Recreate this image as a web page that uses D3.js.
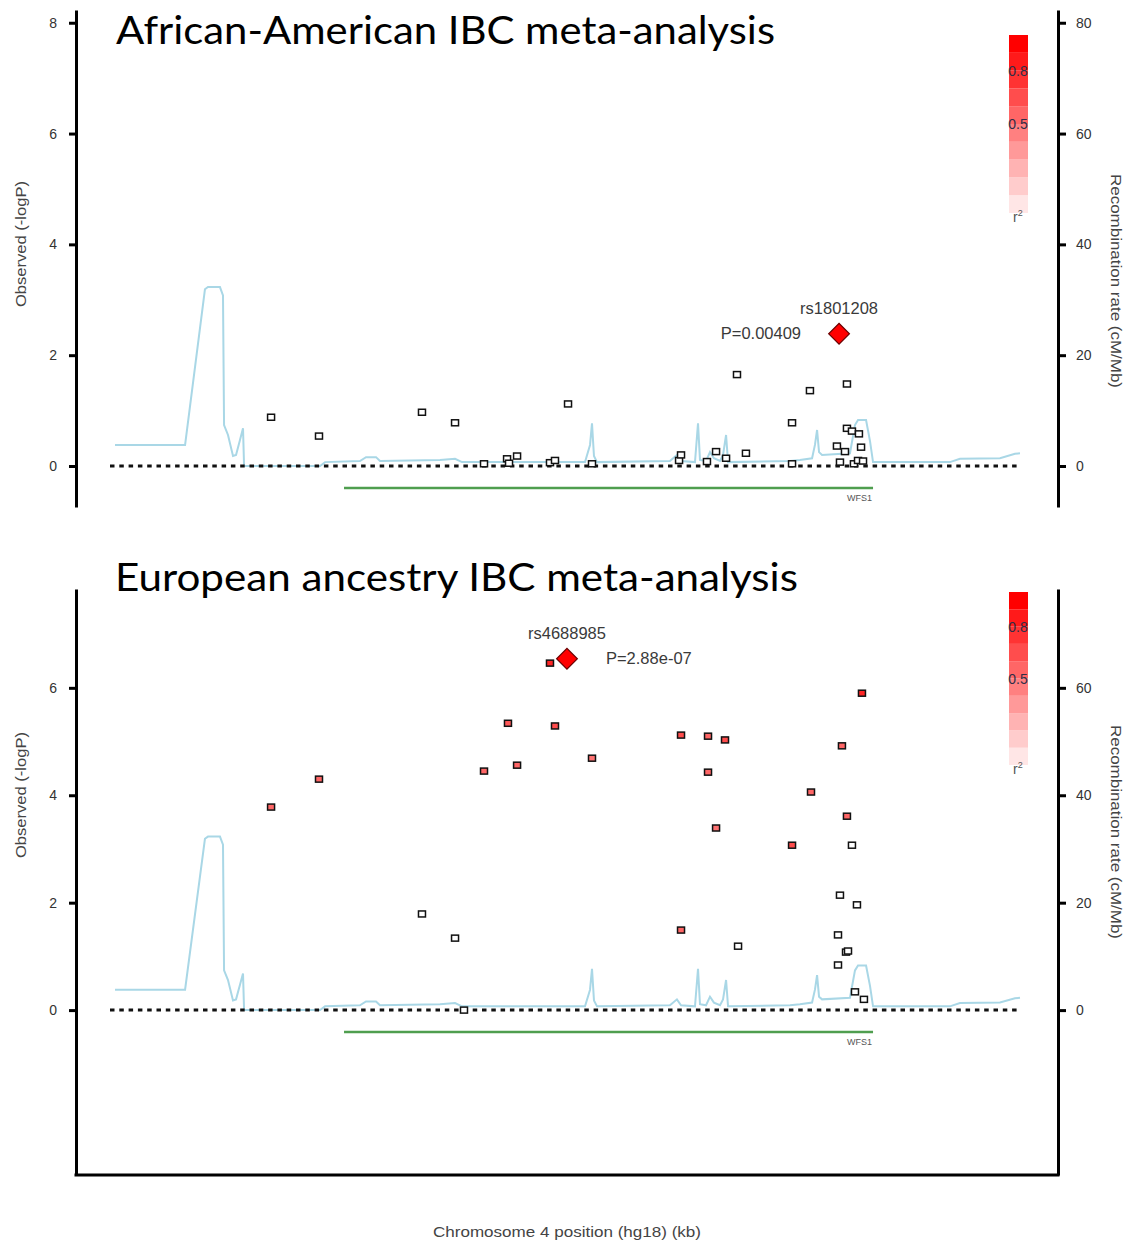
<!DOCTYPE html>
<html>
<head>
<meta charset="utf-8">
<script src="https://cdn.jsdelivr.net/npm/d3@7"></script>
<style>
  body { margin: 0; background: #fff; }
  svg text { font-family: "Liberation Sans", Arial, sans-serif; }
</style>
</head>
<body>
<div class="container"></div>
<script>
// region shown, kb on chromosome 4 (hg18)
const regionKb = [6300, 6360];

// recombination rate curve (cM/Mb)
const recPos = [6300.33, 6304.95, 6306.26, 6306.46, 6307.25, 6307.45, 6307.52, 6307.78, 6308.11, 6308.31,
  6308.57, 6308.77, 6308.84, 6313.85, 6314.18, 6316.48, 6316.88, 6317.54, 6317.80, 6321.76,
  6322.75, 6323.21, 6331.32, 6331.65, 6331.78, 6331.91, 6332.11, 6336.92, 6337.38, 6337.65,
  6338.57, 6338.77, 6338.90, 6339.30, 6339.56, 6339.82, 6340.22, 6340.42, 6340.62, 6340.75,
  6344.84, 6345.49, 6346.29, 6346.48, 6346.62, 6346.75, 6346.95, 6348.79, 6349.12, 6349.32,
  6349.85, 6350.11, 6350.31, 6355.38, 6356.04, 6358.68, 6359.67, 6360.00];
const recRate = [3.8, 3.8, 31.9, 32.3, 32.3, 30.8, 7.4, 5.6, 1.8, 2.0,
  4.7, 6.8, 0, 0, 0.7, 0.9, 1.6, 1.6, 0.9, 1.1,
  1.3, 0.7, 0.7, 3.8, 7.7, 1.8, 0.7, 0.9, 2.0, 0.9,
  0.7, 7.7, 1.1, 0.9, 2.5, 1.4, 0.9, 2.0, 5.6, 0.7,
  0.9, 1.1, 1.4, 3.8, 6.5, 2.5, 2.0, 2.3, 7.4, 8.3,
  8.3, 4.5, 0.7, 0.7, 1.3, 1.4, 2.2, 2.3];

// gene track
const geneName = "WFS1";
const geneStart = 6315.43;
const geneEnd = 6350.31;

// African-American SNPs
const aaPos = [6310.62, 6313.78, 6320.57, 6322.75, 6324.66, 6326.18, 6326.31, 6326.84, 6329.01, 6329.34,
  6330.20, 6331.78, 6337.52, 6337.65, 6339.36, 6339.96, 6340.62, 6341.34, 6341.93, 6344.97,
  6344.97, 6346.15, 6347.93, 6348.13, 6348.46, 6348.59, 6348.59, 6348.92, 6349.05, 6349.32,
  6349.38, 6349.52, 6349.65];
const aaLogP = [0.88, 0.54, 0.97, 0.78, 0.04, 0.13, 0.05, 0.18, 0.06, 0.10,
  1.12, 0.04, 0.10, 0.20, 0.08, 0.26, 0.14, 1.65, 0.23, 0.78,
  0.04, 1.36, 0.36, 0.07, 0.26, 1.48, 0.68, 0.63, 0.04, 0.10,
  0.58, 0.34, 0.09];
const aaR2 = aaPos.map(() => 0);
const aaLead = { name: "rs1801208", pos: 6348.07, logp: 2.388, p: "P=0.00409" };

// European ancestry SNPs
const euPos = [6310.62, 6313.78, 6320.57, 6322.75, 6323.34, 6324.66, 6326.24, 6326.84, 6329.01, 6329.34,
  6331.78, 6337.65, 6337.65, 6339.43, 6339.43, 6340.55, 6339.96, 6341.41, 6344.97, 6346.22,
  6348.26, 6348.59, 6348.92, 6349.58, 6348.13, 6349.25, 6348.00, 6348.53, 6348.66, 6348.00,
  6349.12, 6349.71];
const euLogP = [3.78, 4.30, 1.79, 1.34, 0.00, 4.45, 5.34, 4.56, 6.46, 5.29,
  4.69, 5.12, 1.49, 5.10, 4.43, 5.03, 3.39, 1.19, 3.07, 4.06,
  4.92, 3.61, 3.07, 5.90, 2.14, 1.96, 1.40, 1.08, 1.10, 0.84,
  0.34, 0.20];
const euR2 = [0.6, 0.6, 0, 0, 0, 0.6, 0.65, 0.6, 0.85, 0.7,
  0.55, 0.7, 0.6, 0.6, 0.6, 0.7, 0.55, 0, 0.7, 0.6,
  0.6, 0.6, 0, 0.85, 0, 0, 0, 0, 0, 0,
  0, 0];
const euLead = { name: "rs4688985", pos: 6330.13, logp: 6.54, p: "P=2.88e-07" };

// legend
const r2Steps = [0.1, 0.2, 0.3, 0.4, 0.5, 0.6, 0.7, 0.8, 0.9, 1.0];
const r2Labels = [0.8, 0.5];

const w = 1134;
const h = 1246;

const panels = [
  { title: "African-American IBC meta-analysis", titleX: 116, titleY: 44, titleLen: 659,
    top: 10, bottom: 507, yDomain: [-0.74, 8.23], yTicks: [0, 2, 4, 6, 8], recTicks: [0, 20, 40, 60, 80],
    pos: aaPos, logp: aaLogP, r2: aaR2, lead: aaLead, pSide: "left",
    legend: [213, 35], labelY: 244, recLabelY: 281 },
  { title: "European ancestry IBC meta-analysis", titleX: 115, titleY: 591, titleLen: 683,
    top: 589, bottom: 1175, yDomain: [-3.07, 7.84], yTicks: [0, 2, 4, 6], recTicks: [0, 20, 40, 60],
    pos: euPos, logp: euLogP, r2: euR2, lead: euLead, pSide: "right",
    legend: [765, 592], labelY: 795, recLabelY: 832 }
];

const svg = d3.select(".container")
  .append("svg")
  .attr("width", w)
  .attr("height", h)
  .style("background", "white");

const xScale = d3.scaleLinear().domain(regionKb).range([110, 1020]);
const r2Color = d3.interpolateRgb("#ffffff", "#ff0000");
const leftX = 76;
const rightX = 1058;

panels.forEach((p) => {
  const g = svg.append("g");
  const yScale = d3.scaleLinear().domain(p.yDomain).range([p.bottom, p.top]);
  const recScale = d3.scaleLinear().domain(p.yDomain.map(v => v * 10)).range([p.bottom, p.top]);

  // recombination rate
  const recLine = d3.line()
    .x((d, i) => xScale(recPos[i]))
    .y((d) => recScale(d));
  g.append("path")
    .datum(recRate)
    .attr("d", recLine)
    .attr("fill", "none")
    .attr("stroke", "#a9d7e6")
    .attr("stroke-width", 2);

  // dotted baseline
  g.append("line")
    .attr("x1", xScale(regionKb[0]))
    .attr("x2", xScale(regionKb[1]))
    .attr("y1", yScale(0))
    .attr("y2", yScale(0))
    .attr("stroke", "#111")
    .attr("stroke-width", 3)
    .attr("stroke-dasharray", "4.5,4.8");

  // gene
  const geneY = yScale(0) + 22;
  g.append("line")
    .attr("x1", xScale(geneStart))
    .attr("x2", xScale(geneEnd))
    .attr("y1", geneY)
    .attr("y2", geneY)
    .attr("stroke", "#4f9e4f")
    .attr("stroke-width", 2.5);
  g.append("text")
    .attr("x", xScale(geneEnd) - 1)
    .attr("y", geneY + 13)
    .attr("text-anchor", "end")
    .attr("font-size", 9)
    .attr("fill", "#555")
    .text(geneName);

  // snps
  g.selectAll("rect.snp")
    .data(p.pos)
    .enter()
    .append("rect")
    .attr("class", "snp")
    .attr("x", (d) => xScale(d) - 3.5)
    .attr("y", (d, i) => yScale(p.logp[i]) - 3)
    .attr("width", 7)
    .attr("height", 6)
    .attr("fill", (d, i) => r2Color(p.r2[i]))
    .attr("stroke", "#111")
    .attr("stroke-width", 1.5);

  // lead snp
  const lx = xScale(p.lead.pos);
  const ly = yScale(p.lead.logp);
  g.append("path")
    .attr("d", d3.symbol(d3.symbolSquare, 215)())
    .attr("transform", `translate(${lx},${ly}) rotate(45)`)
    .attr("fill", "#ff0000")
    .attr("stroke", "#6b0000")
    .attr("stroke-width", 1.2);
  g.append("text")
    .attr("x", lx)
    .attr("y", ly - 20)
    .attr("text-anchor", "middle")
    .attr("font-size", 16.5)
    .attr("fill", "#3a3a3a")
    .text(p.lead.name);
  g.append("text")
    .attr("x", p.pSide === "left" ? lx - 38 : lx + 39)
    .attr("y", ly + 5)
    .attr("text-anchor", p.pSide === "left" ? "end" : "start")
    .attr("font-size", 16.5)
    .attr("fill", "#3a3a3a")
    .text(p.lead.p);

  // axes
  const yAxis = d3.axisLeft(yScale).tickValues(p.yTicks).tickSize(7).tickSizeOuter(0).tickPadding(12);
  const recAxis = d3.axisRight(recScale).tickValues(p.recTicks).tickSize(8).tickSizeOuter(0).tickPadding(10);

  const ya = g.append("g")
    .attr("transform", "translate(" + leftX + ",0)")
    .call(yAxis);
  const ra = g.append("g")
    .attr("transform", "translate(" + rightX + ",0)")
    .call(recAxis);
  [ya, ra].forEach((a) => {
    a.select(".domain").attr("stroke", "#000").attr("stroke-width", 3);
    a.selectAll(".tick line").attr("stroke", "#000").attr("stroke-width", 3);
    a.selectAll(".tick text").attr("font-size", 14).attr("fill", "#333")
      .style("font-family", "Liberation Sans, Arial, sans-serif");
  });

  g.append("text")
    .attr("transform", `translate(26,${p.labelY}) rotate(-90)`)
    .attr("text-anchor", "middle")
    .attr("font-size", 15)
    .attr("textLength", 126)
    .attr("lengthAdjust", "spacingAndGlyphs")
    .attr("fill", "#444")
    .text("Observed (-logP)");
  g.append("text")
    .attr("transform", `translate(1111,${p.recLabelY}) rotate(90)`)
    .attr("text-anchor", "middle")
    .attr("font-size", 15)
    .attr("textLength", 214)
    .attr("lengthAdjust", "spacingAndGlyphs")
    .attr("fill", "#444")
    .text("Recombination rate (cM/Mb)");

  // r2 legend
  const legScale = d3.scaleLinear().domain([0, 1]).range(p.legend);
  g.selectAll("rect.leg")
    .data(r2Steps)
    .enter()
    .append("rect")
    .attr("class", "leg")
    .attr("x", 1009)
    .attr("y", (d) => legScale(d))
    .attr("width", 19)
    .attr("height", (d) => legScale(d - 0.1) - legScale(d))
    .attr("fill", (d) => r2Color(d));
  g.selectAll("text.leglab")
    .data(r2Labels)
    .enter()
    .append("text")
    .attr("class", "leglab")
    .attr("x", 1018)
    .attr("y", (d) => legScale(d) + 5)
    .attr("text-anchor", "middle")
    .attr("font-size", 14)
    .attr("fill", "#2e2e48")
    .text((d) => d);
  const r2t = g.append("text")
    .attr("x", 1013)
    .attr("y", legScale(0) + 9)
    .attr("font-size", 14)
    .attr("fill", "#555");
  r2t.append("tspan").text("r");
  r2t.append("tspan").attr("font-size", 9).attr("dy", -6).text("2");

  // title
  g.append("text")
    .attr("x", p.titleX)
    .attr("y", p.titleY)
    .attr("font-size", 38)
    .attr("textLength", p.titleLen)
    .attr("lengthAdjust", "spacingAndGlyphs")
    .style("font-family", "Lato, 'Open Sans', sans-serif")
    .attr("fill", "#000")
    .text(p.title);
});

// frame bottom of lower panel
svg.append("line")
  .attr("x1", leftX - 1.5)
  .attr("x2", rightX + 1.5)
  .attr("y1", panels[1].bottom)
  .attr("y2", panels[1].bottom)
  .attr("stroke", "#000")
  .attr("stroke-width", 3);

svg.append("text")
  .attr("x", 567)
  .attr("y", 1237)
  .attr("text-anchor", "middle")
  .attr("font-size", 15)
  .attr("textLength", 268)
  .attr("lengthAdjust", "spacingAndGlyphs")
  .attr("fill", "#444")
  .text("Chromosome 4 position (hg18) (kb)");
</script>
</body>
</html>
